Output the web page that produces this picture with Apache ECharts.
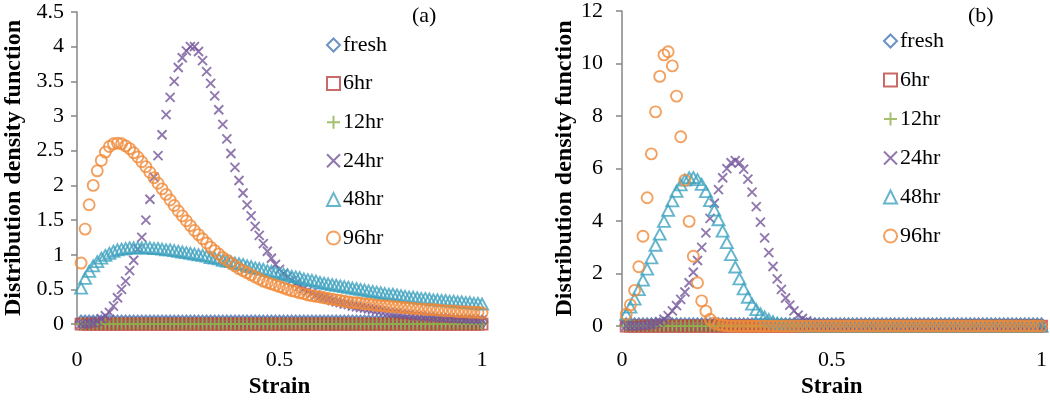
<!DOCTYPE html>
<html>
<head>
<meta charset="utf-8">
<script src="https://cdn.jsdelivr.net/npm/echarts@6/dist/echarts.min.js"></script>
<style>html,body{margin:0;padding:0;background:#fff}#c{width:1050px;height:404px}</style>
</head>
<body>
<div id="c"></div>
<script>
// ---- data ----
const seriesNames = ['fresh', '6hr', '12hr', '24hr', '48hr', '96hr'];
const strain = [
0.01,0.02,0.03,0.04,0.05,0.06,0.07,0.08,0.09,0.10,
0.11,0.12,0.13,0.14,0.15,0.16,0.17,0.18,0.19,0.20,
0.21,0.22,0.23,0.24,0.25,0.26,0.27,0.28,0.29,0.30,
0.31,0.32,0.33,0.34,0.35,0.36,0.37,0.38,0.39,0.40,
0.41,0.42,0.43,0.44,0.45,0.46,0.47,0.48,0.49,0.50,
0.51,0.52,0.53,0.54,0.55,0.56,0.57,0.58,0.59,0.60,
0.61,0.62,0.63,0.64,0.65,0.66,0.67,0.68,0.69,0.70,
0.71,0.72,0.73,0.74,0.75,0.76,0.77,0.78,0.79,0.80,
0.81,0.82,0.83,0.84,0.85,0.86,0.87,0.88,0.89,0.90,
0.91,0.92,0.93,0.94,0.95,0.96,0.97,0.98,0.99,1.00];

// panel (a)
const aFresh = [
0.03,0.03,0.03,0.03,0.03,0.03,0.03,0.03,0.03,0.03,
0.03,0.03,0.03,0.03,0.03,0.03,0.03,0.03,0.03,0.03,
0.03,0.03,0.03,0.03,0.03,0.03,0.03,0.03,0.03,0.03,
0.03,0.03,0.03,0.03,0.03,0.03,0.03,0.03,0.03,0.03,
0.03,0.03,0.03,0.03,0.03,0.03,0.03,0.03,0.03,0.03,
0.03,0.03,0.03,0.03,0.03,0.03,0.03,0.03,0.03,0.03,
0.03,0.03,0.03,0.03,0.03,0.03,0.03,0.03,0.03,0.03,
0.03,0.03,0.03,0.03,0.03,0.03,0.03,0.03,0.03,0.03,
0.03,0.03,0.03,0.03,0.03,0.03,0.03,0.03,0.03,0.03,
0.03,0.03,0.03,0.03,0.03,0.03,0.03,0.03,0.03,0.03];
const a6hr = [
0,0,0,0,0,0,0,0,0,0, 0,0,0,0,0,0,0,0,0,0,
0,0,0,0,0,0,0,0,0,0, 0,0,0,0,0,0,0,0,0,0,
0,0,0,0,0,0,0,0,0,0, 0,0,0,0,0,0,0,0,0,0,
0,0,0,0,0,0,0,0,0,0, 0,0,0,0,0,0,0,0,0,0,
0,0,0,0,0,0,0,0,0,0, 0,0,0,0,0,0,0,0,0,0];
const a12hr = [
0,0,0,0,0,0,0,0,0,0, 0,0,0,0,0,0,0,0,0,0,
0,0,0,0,0,0,0,0,0,0, 0,0,0,0,0,0,0,0,0,0,
0,0,0,0,0,0,0,0,0,0, 0,0,0,0,0,0,0,0,0,0,
0,0,0,0,0,0,0,0,0,0, 0,0,0,0,0,0,0,0,0,0,
0,0,0,0,0,0,0,0,0,0, 0,0,0,0,0,0,0,0,0,0];
const a24hr = [
0.00,0.00,0.01,0.02,0.04,0.08,0.12,0.17,0.26,0.38,
0.50,0.62,0.77,0.92,1.08,1.25,1.50,1.80,2.12,2.43,
2.73,3.02,3.27,3.50,3.70,3.84,3.94,4.00,4.00,3.93,
3.80,3.64,3.47,3.29,3.09,2.88,2.67,2.46,2.26,2.07,
1.89,1.72,1.56,1.41,1.28,1.16,1.05,0.95,0.86,0.79,
0.73,0.68,0.63,0.59,0.55,0.51,0.48,0.45,0.42,0.40,
0.38,0.36,0.34,0.32,0.31,0.29,0.28,0.26,0.25,0.24,
0.23,0.22,0.21,0.20,0.19,0.18,0.17,0.16,0.16,0.15,
0.14,0.14,0.13,0.12,0.12,0.11,0.11,0.10,0.10,0.09,
0.09,0.09,0.08,0.08,0.08,0.07,0.07,0.07,0.06,0.06];
const a48hr = [
0.52,0.66,0.76,0.84,0.90,0.95,0.99,1.02,1.05,1.07,
1.08,1.09,1.10,1.10,1.10,1.10,1.10,1.10,1.09,1.09,
1.08,1.07,1.07,1.06,1.05,1.04,1.03,1.02,1.01,1.00,
0.99,0.98,0.96,0.95,0.94,0.92,0.91,0.90,0.88,0.87,
0.86,0.84,0.83,0.81,0.80,0.79,0.77,0.76,0.75,0.73,
0.72,0.71,0.69,0.68,0.67,0.65,0.64,0.63,0.62,0.60,
0.59,0.58,0.57,0.56,0.55,0.54,0.53,0.52,0.51,0.50,
0.49,0.48,0.47,0.46,0.45,0.44,0.43,0.43,0.42,0.41,
0.40,0.39,0.39,0.38,0.37,0.37,0.36,0.35,0.35,0.34,
0.34,0.33,0.33,0.32,0.32,0.31,0.31,0.30,0.30,0.29];
const a96hr = [
0.88,1.37,1.72,2.00,2.21,2.36,2.48,2.56,2.60,2.61,
2.60,2.57,2.53,2.47,2.41,2.34,2.27,2.19,2.11,2.03,
1.95,1.87,1.79,1.71,1.63,1.56,1.49,1.42,1.35,1.29,
1.23,1.17,1.11,1.06,1.01,0.96,0.92,0.88,0.84,0.80,
0.77,0.74,0.71,0.68,0.65,0.62,0.60,0.58,0.56,0.54,
0.52,0.50,0.48,0.47,0.45,0.44,0.42,0.41,0.40,0.39,
0.38,0.37,0.36,0.35,0.34,0.33,0.32,0.31,0.31,0.30,
0.29,0.29,0.28,0.27,0.27,0.26,0.26,0.25,0.25,0.24,
0.24,0.23,0.23,0.22,0.22,0.21,0.21,0.21,0.20,0.20,
0.19,0.19,0.19,0.18,0.18,0.18,0.17,0.17,0.17,0.16];

// panel (b)
const bFresh = [
0.05,0.05,0.05,0.05,0.05,0.05,0.05,0.05,0.05,0.05,
0.05,0.05,0.05,0.05,0.05,0.05,0.05,0.05,0.05,0.05,
0.05,0.05,0.05,0.05,0.05,0.05,0.05,0.05,0.05,0.05,
0.05,0.05,0.05,0.05,0.05,0.05,0.05,0.05,0.05,0.05,
0.05,0.05,0.05,0.05,0.05,0.05,0.05,0.05,0.05,0.05,
0.05,0.05,0.05,0.05,0.05,0.05,0.05,0.05,0.05,0.05,
0.05,0.05,0.05,0.05,0.05,0.05,0.05,0.05,0.05,0.05,
0.05,0.05,0.05,0.05,0.05,0.05,0.05,0.05,0.05,0.05,
0.05,0.05,0.05,0.05,0.05,0.05,0.05,0.05,0.05,0.05,
0.05,0.05,0.05,0.05,0.05,0.05,0.05,0.05,0.05,0.05];
const b6hr = [
0,0,0,0,0,0,0,0,0,0, 0,0,0,0,0,0,0,0,0,0,
0,0,0,0,0,0,0,0,0,0, 0,0,0,0,0,0,0,0,0,0,
0,0,0,0,0,0,0,0,0,0, 0,0,0,0,0,0,0,0,0,0,
0,0,0,0,0,0,0,0,0,0, 0,0,0,0,0,0,0,0,0,0,
0,0,0,0,0,0,0,0,0,0, 0,0,0,0,0,0,0,0,0,0];
const b12hr = [
0,0,0,0,0,0,0,0,0,0, 0,0,0,0,0,0,0,0,0,0,
0,0,0,0,0,0,0,0,0,0, 0,0,0,0,0,0,0,0,0,0,
0,0,0,0,0,0,0,0,0,0, 0,0,0,0,0,0,0,0,0,0,
0,0,0,0,0,0,0,0,0,0, 0,0,0,0,0,0,0,0,0,0,
0,0,0,0,0,0,0,0,0,0, 0,0,0,0,0,0,0,0,0,0];
const b24hr = [
0.00,0.00,0.01,0.01,0.02,0.04,0.07,0.11,0.17,0.26,
0.40,0.58,0.78,1.02,1.30,1.65,2.05,2.50,3.00,3.55,
4.10,4.68,5.20,5.65,6.00,6.22,6.30,6.22,5.98,5.60,
5.10,4.55,3.96,3.36,2.80,2.27,1.80,1.40,1.07,0.80,
0.58,0.42,0.29,0.20,0.13,0.09,0.06,0.04,0.02,0.01,
0,0,0,0,0,0,0,0,0,0, 0,0,0,0,0,0,0,0,0,0,
0,0,0,0,0,0,0,0,0,0, 0,0,0,0,0,0,0,0,0,0,
0,0,0,0,0,0,0,0,0,0];
const b48hr = [
0.45,0.72,1.03,1.39,1.75,2.17,2.60,3.08,3.50,3.99,
4.41,4.77,5.13,5.38,5.56,5.65,5.66,5.58,5.40,5.12,
4.78,4.42,4.05,3.62,3.18,2.72,2.25,1.80,1.42,1.10,
0.84,0.63,0.47,0.35,0.25,0.17,0.11,0.07,0.05,0.03,
0.02,0.01,0,0,0,0,0,0,0,0,
0,0,0,0,0,0,0,0,0,0, 0,0,0,0,0,0,0,0,0,0,
0,0,0,0,0,0,0,0,0,0, 0,0,0,0,0,0,0,0,0,0,
0,0,0,0,0,0,0,0,0,0];
const b96hr = [
0.45,0.81,1.36,2.26,3.42,4.89,6.56,8.16,9.51,10.33,
10.45,9.91,8.76,7.21,5.56,3.99,2.66,1.65,0.96,0.57,
0.26,0.12,0.06,0.03,0.01,0,0,0,0,0,
0,0,0,0,0,0,0,0,0,0, 0,0,0,0,0,0,0,0,0,0,
0,0,0,0,0,0,0,0,0,0, 0,0,0,0,0,0,0,0,0,0,
0,0,0,0,0,0,0,0,0,0, 0,0,0,0,0,0,0,0,0,0,
0,0,0,0,0,0,0,0,0,0];

const xTicks = [0, 0.5, 1];
const yTicksA = [0, 0.5, 1, 1.5, 2, 2.5, 3, 3.5, 4, 4.5];
const yTicksB = [0, 2, 4, 6, 8, 10, 12];

// ---- styling ----
const FONT = '"Liberation Serif", "Times New Roman", serif';
const styles = [
  { symbol: 'diamond', color: '#4677B5', size: [11, 13] },
  { symbol: 'rect', color: '#BA4541', size: 11 },
  { symbol: 'path://M5,0L5,10M0,5L10,5', color: '#8DB04A', size: 12 },
  { symbol: 'path://M0,0L10,10M10,0L0,10', color: '#74569A', size: 9 },
  { symbol: 'triangle', color: '#3FA3BF', size: [12, 11] },
  { symbol: 'circle', color: '#F08A38', size: 11 }
];
const panelA = [aFresh, a6hr, a12hr, a24hr, a48hr, a96hr];
const panelB = [bFresh, b6hr, b12hr, b24hr, b48hr, b96hr];

function mkSeries(values, idx) {
  return values.map((arr, k) => ({
    name: seriesNames[k],
    type: 'scatter',
    clip: false,
    xAxisIndex: idx, yAxisIndex: idx,
    symbol: styles[k].symbol,
    symbolSize: styles[k].size,
    itemStyle: { color: 'rgba(0,0,0,0)', borderColor: styles[k].color, borderWidth: 1.9 },
    emphasis: { disabled: true },
    data: strain.map((x, i) => [x, arr[i]])
  }));
}

function xAxis(idx, labelMargin, nameGap) {
  return {
    type: 'value', gridIndex: idx, min: xTicks[0], max: xTicks[xTicks.length - 1],
    interval: xTicks[1] - xTicks[0],
    name: 'Strain', nameLocation: 'middle', nameGap: nameGap,
    nameTextStyle: { fontFamily: FONT, fontSize: 23, fontWeight: 'bold', color: '#000' },
    axisLine: { show: false }, axisTick: { show: false }, splitLine: { show: false },
    axisLabel: { fontFamily: FONT, fontSize: 22, color: '#000', margin: labelMargin,
      formatter: v => String(v) }
  };
}
function yAxis(idx, ticks, labelMargin, nameGap) {
  return {
    type: 'value', gridIndex: idx, min: ticks[0], max: ticks[ticks.length - 1],
    interval: ticks[1] - ticks[0],
    name: 'Distribution density function', nameLocation: 'middle', nameGap: nameGap,
    nameTextStyle: { fontFamily: FONT, fontSize: 24, fontWeight: 'bold', color: '#000' },
    axisLine: { show: true, lineStyle: { color: '#868686', width: 1.5 } },
    axisTick: { show: true, length: 6, lineStyle: { color: '#868686', width: 1.5 } },
    splitLine: { show: false },
    axisLabel: { fontFamily: FONT, fontSize: 22, color: '#000', margin: labelMargin,
      formatter: v => String(v) }
  };
}
function legend(left, top, gap) {
  return {
    orient: 'vertical', left: left, top: top, itemGap: gap,
    itemWidth: 13, itemHeight: 13, padding: 0,
    data: seriesNames,
    textStyle: { fontFamily: FONT, fontSize: 22, color: '#000', padding: [0, 0, 0, -2] },
    selectedMode: false
  };
}

const chart = echarts.init(document.getElementById('c'), null, { renderer: 'canvas' });
chart.setOption({
  animation: false,
  backgroundColor: '#fff',
  title: [
    { text: '(a)', left: 412, top: 5, padding: 0,
      textStyle: { fontFamily: FONT, fontSize: 22, fontWeight: 'normal', color: '#000' } },
    { text: '(b)', left: 968, top: 5, padding: 0,
      textStyle: { fontFamily: FONT, fontSize: 22, fontWeight: 'normal', color: '#000' } }
  ],
  grid: [
    { left: 77, top: 12, width: 405, height: 321 },
    { left: 622, top: 7, width: 420, height: 331 }
  ],
  xAxis: [xAxis(0, 25, 50), xAxis(1, 23, 46)],
  yAxis: [yAxis(0, yTicksA, 13, 51), yAxis(1, yTicksB, 19, 41)],
  legend: [legend(326, 34, 16.6), legend(883, 30, 17)],
  series: mkSeries(panelA, 0).concat(mkSeries(panelB, 1))
});
</script>
</body>
</html>
